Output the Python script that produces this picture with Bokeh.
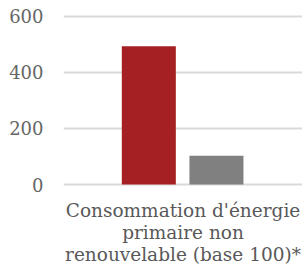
from bokeh.plotting import figure
from bokeh.models import Range1d, FactorRange, ColumnDataSource, FixedTicker
from bokeh.transform import dodge
from bokeh.embed import file_html
from bokeh.resources import INLINE

categories = ["Consommation d'énergie\nprimaire non\nrenouvelable (base 100)*"]
series_a = [493]
series_b = [103]
y_ticks = [0, 200, 400, 600]

src = ColumnDataSource(dict(cat=categories, a=series_a, b=series_b))

p = figure(width=302, height=268, x_range=FactorRange(*categories),
           y_range=Range1d(-7, 621), output_backend="svg", toolbar_location=None,
           min_border_left=63, min_border_right=0, min_border_top=10, min_border_bottom=82)
p.outline_line_color = None
p.background_fill_color = "white"

p.vbar(x=dodge('cat', -0.143, range=p.x_range), top='a', width=0.226, source=src,
       fill_color="#A52022", line_color=None)
p.vbar(x=dodge('cat', 0.14, range=p.x_range), top='b', width=0.226, source=src,
       fill_color="#808080", line_color=None)

p.xgrid.grid_line_color = None
p.ygrid.grid_line_color = "#d9d9d9"
p.ygrid.grid_line_width = 2
p.yaxis.ticker = FixedTicker(ticks=y_ticks)
p.yaxis.axis_line_color = None
p.yaxis.major_tick_line_color = None
p.yaxis.minor_tick_line_color = None
p.yaxis.major_tick_out = 0
p.yaxis.major_label_standoff = 20
p.yaxis.major_label_text_font = "DejaVu Serif"
p.yaxis.major_label_text_font_size = "18px"
p.yaxis.major_label_text_color = "#666666"

p.xaxis.axis_line_color = None
p.xaxis.major_tick_line_color = None
p.xaxis.major_tick_out = 0
p.xaxis.major_label_standoff = 13
p.xaxis.major_label_text_font = "DejaVu Serif"
p.xaxis.major_label_text_font_size = "18.5px"
p.xaxis.major_label_text_color = "#595959"
p.xaxis.major_label_text_line_height = 1.06

open("out.html", "w").write(file_html(p, INLINE))
